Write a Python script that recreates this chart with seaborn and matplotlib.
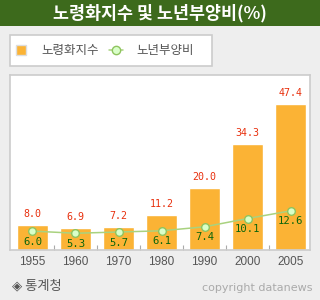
import matplotlib
matplotlib.use("Agg")
import matplotlib.pyplot as plt
from matplotlib.patches import Rectangle
from matplotlib.lines import Line2D
import seaborn as sns
import pandas as pd
import numpy as np

years = ["1955", "1960", "1970", "1980", "1990", "2000", "2005"]
aging_index = [8.0, 6.9, 7.2, 11.2, 20.0, 34.3, 47.4]
dependency_ratio = [6.0, 5.3, 5.7, 6.1, 7.4, 10.1, 12.6]
title = "노령화지수 및 노년부양비(%)"
series_names = ["노령화지수", "노년부양비"]
source = "◈ 통계청"
copyright_text = "copyright datanews"

sns.set_theme(style="white")
plt.rcParams['font.family'] = ['Noto Sans CJK KR', 'DejaVu Sans']

df = pd.DataFrame({"year": years, "aging": aging_index, "dep": dependency_ratio})

W, H = 320, 300
fig = plt.figure(figsize=(W / 100, H / 100), dpi=100)
fig.patch.set_facecolor("#eeeeee")

# title bar
fig.patches.append(Rectangle((0, 1 - 26 / H), 1, 26 / H, transform=fig.transFigure,
                             facecolor="#3d6a1c", edgecolor="none", zorder=0))
fig.text(0.5, 1 - 13 / H, title, ha="center", va="center", color="white",
         fontsize=12.5, fontweight="bold")

# legend box frame
fig.patches.append(Rectangle((10 / W, 1 - 66 / H), 202 / W, 31 / H,
                             transform=fig.transFigure, facecolor="white",
                             edgecolor="#cccccc", linewidth=1.2, zorder=0))

# axes
ax = fig.add_axes([10 / W, 50.5 / H, 300 / W, 174.5 / H])
ax.set_facecolor("white")
bar_color = "#fbb335"
sns.barplot(data=df, x="year", y="aging", color=bar_color, width=0.72,
            saturation=1, ax=ax, zorder=2)
sns.pointplot(data=df, x="year", y="dep", color="#a9d27f", markers="o",
              ax=ax, zorder=4, linewidth=1.1,
              markersize=5.5, markerfacecolor="#d9ffc9", markeredgecolor="#8fc45f",
              markeredgewidth=1.0)
for ln in ax.lines:
    ln.set_markerfacecolor("#d9ffc9")
    ln.set_markeredgecolor("#8fc45f")

ax.set_ylim(0, 56.9)
ax.set_xlim(-0.523, 6.453)

for i, (a, d) in enumerate(zip(aging_index, dependency_ratio)):
    ax.annotate(f"{a:.1f}", (i, a), xytext=(0, 4.5), textcoords="offset points",
                ha="center", va="bottom", color="#e8300e", fontsize=7.2,
                family="DejaVu Sans Mono", zorder=5)
    ax.annotate(f"{d:.1f}", (i, d), xytext=(0, -4), textcoords="offset points",
                ha="center", va="top", color="#0b650b", fontsize=7.6,
                family="DejaVu Sans Mono", zorder=5)

ax.set_xlabel("")
ax.set_ylabel("")
ax.set_yticks([])
ax.set_xticks(range(len(years)))
ax.set_xticklabels(years, fontsize=8.5, color="#555555", family="Liberation Sans")
ax.tick_params(axis="x", which="major", length=0, pad=5)
ax.set_xticks(np.arange(0.5, len(years) - 1, 1.0), minor=True)
ax.tick_params(axis="x", which="minor", direction="in", length=3.5, width=0.8,
               color="#aaaaaa", bottom=True)
for s in ax.spines.values():
    s.set_color("#cccccc")
    s.set_linewidth(1.2)

# legend
handles = [
    Line2D([0], [0], marker="s", linestyle="none", markersize=7,
           markerfacecolor="#fbb335", markeredgecolor="#dddddd"),
    Line2D([0], [0], color="#a9d27f", marker="o", markersize=6,
           markerfacecolor="#d9ffc9", markeredgecolor="#8fc45f", linewidth=1.1),
]
leg = fig.legend(handles, series_names, loc="center left", ncol=2,
                 bbox_to_anchor=(10 / W, 1 - 50.5 / H),
                 frameon=False, fontsize=9, handlelength=1.1,
                 handletextpad=1.08, columnspacing=0.8, borderaxespad=0,
                 borderpad=0.32)
for t in leg.get_texts():
    t.set_color("#555555")

fig.text(12 / W, 1 - 286 / H, source, ha="left", va="center", color="#555555",
         fontsize=9.5)
fig.text(312 / W, 1 - 288 / H, copyright_text, ha="right", va="center",
         color="#aaaaaa", fontsize=8, family="DejaVu Sans")

fig.savefig("out.png", dpi=100, facecolor=fig.get_facecolor())
